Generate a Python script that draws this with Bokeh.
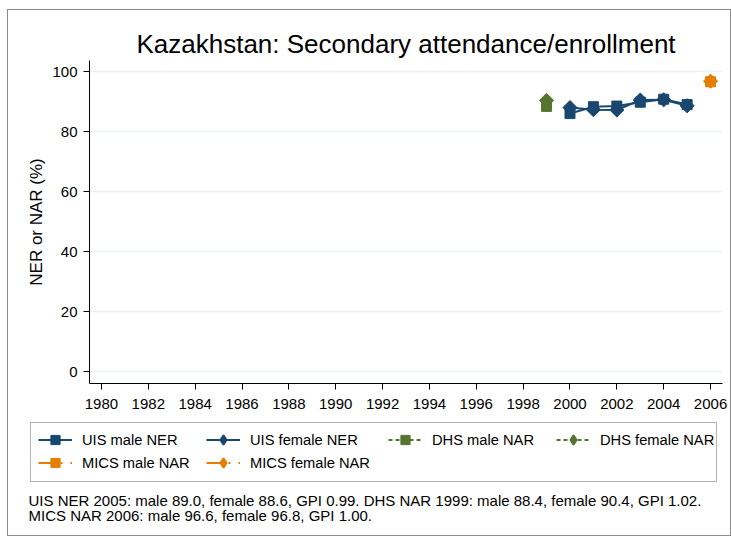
from bokeh.plotting import figure
from bokeh.layouts import column
from bokeh.models import (Range1d, FixedTicker, Legend, LegendItem, Label, BoxAnnotation)
from bokeh.embed import file_html
from bokeh.resources import INLINE
import math

# ---- data ----
uis_years = [2000, 2001, 2002, 2003, 2004, 2005]
uis_male = [86.0, 88.3, 88.5, 89.8, 90.8, 89.0]
uis_female = [88.0, 87.3, 87.2, 90.5, 90.6, 88.6]
dhs_years = [1999]
dhs_male = [88.4]
dhs_female = [90.4]
mics_years = [2006]
mics_male = [96.6]
mics_female = [96.8]
x_ticks = [1980, 1982, 1984, 1986, 1988, 1990, 1992, 1994, 1996, 1998, 2000, 2002, 2004, 2006]
y_ticks = [0, 20, 40, 60, 80, 100]
title_text = "Kazakhstan: Secondary attendance/enrollment"
y_label = "NER or NAR (%)"
series_labels = ["UIS male NER", "UIS female NER", "DHS male NAR", "DHS female NAR",
                 "MICS male NAR", "MICS female NAR"]
note_lines = [
    "UIS NER 2005: male 89.0, female 88.6, GPI 0.99. DHS NAR 1999: male 88.4, female 90.4, GPI 1.02.",
    "MICS NAR 2006: male 96.6, female 96.8, GPI 1.00.",
]

NAVY = "#1a476f"
GREEN = "#55752f"
ORANGE = "#e37e00"
FONT = "Liberation Sans"
W = 722

# ---------------- main plot ----------------
p = figure(width=W, height=406, output_backend="svg", toolbar_location=None,
           x_range=Range1d(1979.49, 2006.51), y_range=Range1d(-4.0, 103.7),
           min_border_left=81, min_border_right=8, min_border_top=50, min_border_bottom=33,
           background_fill_color="white", border_fill_color="white")
p.frame_align = False
p.outline_line_color = None

p.title.text = title_text
p.title.align = "center"
p.title.text_font = FONT
p.title.text_font_size = "26px"
p.title.text_font_style = "normal"
p.title.text_color = "black"
p.title.standoff = 4

for ax in (p.xaxis[0], p.yaxis[0]):
    ax.axis_line_color = "black"
    ax.axis_line_width = 1
    ax.major_tick_line_color = "black"
    ax.major_tick_out = 6
    ax.major_tick_in = 0
    ax.minor_tick_line_color = None
    ax.major_label_text_font = FONT
    ax.major_label_text_font_size = "15px"
    ax.major_label_text_color = "black"

p.xaxis.ticker = FixedTicker(ticks=x_ticks)
p.yaxis.ticker = FixedTicker(ticks=y_ticks)
p.xaxis.major_label_standoff = 9
p.yaxis.major_label_standoff = 6
p.yaxis.major_label_orientation = "horizontal"
p.yaxis.axis_label = y_label
p.yaxis.axis_label_text_font = FONT
p.yaxis.axis_label_text_font_size = "17px"
p.yaxis.axis_label_text_font_style = "normal"
p.yaxis.axis_label_text_color = "black"
p.yaxis.axis_label_standoff = 3

p.xgrid.grid_line_color = None
p.ygrid.grid_line_color = "#eaf2f3"
p.ygrid.grid_line_width = 1.5

specs = [
    (uis_years, uis_male, NAVY, "solid", "square"),
    (uis_years, uis_female, NAVY, "solid", "diamond"),
    (dhs_years, dhs_male, GREEN, "4 3", "square"),
    (dhs_years, dhs_female, GREEN, "4 3", "diamond"),
    (mics_years, mics_male, ORANGE, "14 8 2 8", "square"),
    (mics_years, mics_female, ORANGE, "14 8 2 8", "diamond"),
]

def series(fig, xs, ys, color, dash, kind, rotate):
    ln = fig.line(xs, ys, line_color=color, line_width=2, line_dash=dash)
    if kind == "square":
        mk = fig.scatter(xs, ys, marker="square", size=10, fill_color=color, line_color=color)
    elif rotate:
        # symmetric diamond: a square turned by 45 degrees
        mk = fig.scatter(xs, ys, marker="square", size=10, angle=math.pi / 4,
                         fill_color=color, line_color=color)
    else:
        mk = fig.scatter(xs, ys, marker="diamond", size=15, fill_color=color,
                         line_color=color, line_width=2)
    return [ln, mk]

for s in specs:
    series(p, *s, True)

# ---------------- legend + notes panel ----------------
H2 = 119
p2 = figure(width=W, height=H2, output_backend="svg", toolbar_location=None,
            x_range=Range1d(0, W), y_range=Range1d(0, H2),
            x_axis_location=None, y_axis_location=None,
            min_border=0, background_fill_color="white", border_fill_color="white")
p2.frame_align = False
p2.outline_line_color = None
p2.grid.visible = False
p2.title.visible = False

# proxies for the legend (same data; they fall outside this panel's range)
proxies = [series(p2, *s, False) for s in specs]

box = BoxAnnotation(left=22, right=708, bottom=54, top=113, fill_alpha=0,
                    line_color="black", line_width=1)
p2.add_layout(box)

col_x = [30, 198, 380, 548]
col_items = [[0, 4], [1, 5], [2], [3]]
for cx, idxs in zip(col_x, col_items):
    leg = Legend(items=[LegendItem(label=series_labels[i], renderers=proxies[i]) for i in idxs],
                 location=(cx, 61 if len(idxs) == 2 else 84), orientation="vertical")
    leg.label_text_font = FONT
    leg.label_text_font_size = "14.7px"
    leg.label_text_color = "black"
    leg.glyph_width = 34
    leg.glyph_height = 23
    leg.label_height = 23
    leg.label_standoff = 10
    leg.spacing = 0
    leg.padding = 0
    leg.margin = 0
    leg.border_line_color = None
    leg.background_fill_alpha = 0
    p2.add_layout(leg, "center")

for i, t in enumerate(note_lines):
    p2.add_layout(Label(x=20, y=35 - 15 * i, text=t, text_font=FONT, text_font_size="15px",
                        text_color="black", text_baseline="middle"))

layout = column(p, p2, spacing=0,
                styles={"margin-left": "7px", "margin-top": "9px",
                        "border": "1px solid #8c8c8c"})

open("out.html", "w").write(file_html(layout, INLINE))
